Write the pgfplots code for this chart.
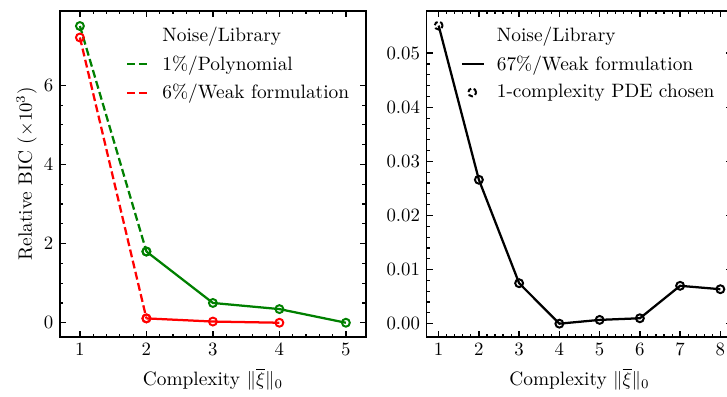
\documentclass[border=0pt]{standalone}
\usepackage{pgfplots}
\pgfplotsset{compat=1.18}
\definecolor{mgreen}{rgb}{0,0.5,0}
\definecolor{mred}{rgb}{1,0,0}
\newcommand{\fs}{\fontsize{10.3pt}{12.5pt}\selectfont}
\pgfplotsset{
  myax/.style={
    scale only axis,
    width=162.7pt, height=173.4pt,
    axis line style={line width=0.95pt},
    tick align=inside,
    tick pos=both,
    major tick length=3.3pt,
    minor tick length=1.8pt,
    every major tick/.append style={line width=0.75pt, black},
    every minor tick/.append style={line width=0.6pt, black},
    minor x tick num=4,
    tick label style={font=\fs},
    label style={font=\fs},
    xlabel={Complexity $\|\overline{\xi}\|_0$},
    legend cell align=left,
    legend style={draw=none, fill=none, anchor=north west, row sep=2pt, column sep=5pt,
      nodes={inner sep=2pt}, font=\fs},
    legend image code/.code={\draw[##1] (0pt,0pt) -- (11pt,0pt);},
  },
  markleg/.style={legend image code/.code={\draw[##1] plot coordinates {(5.5pt,0pt)};}},
  ln/.style={line width=1.2pt, mark=o, mark size=2.1pt, mark options={solid, line width=1.05pt, fill=none}},
  dsh/.style={dash pattern=on 4.2pt off 1.9pt},
}
\begin{document}
\begin{tikzpicture}
\begin{axis}[myax,
  xmin=0.7, xmax=5.3, ymin=-0.36, ymax=7.88,
  xtick={1,2,3,4,5}, ytick={0,2,4,6}, minor y tick num=3,
  ylabel={Relative BIC ($\times 10^3$)},
  ylabel shift=-3pt,
  legend style={at={(axis description cs:0.197,0.975)}},
]
\addlegendimage{empty legend}
\addlegendentry{Noise/Library}
\addplot[mgreen, ln, dsh] coordinates {(1,7.50) (2,1.80)};
\addlegendentry{1\%/Polynomial}
\addplot[mred, ln, dsh] coordinates {(1,7.21) (2,0.11)};
\addlegendentry{6\%/Weak formulation}
\addplot[mgreen, ln, forget plot] coordinates {(2,1.80) (3,0.50) (4,0.345) (5,0.0)};
\addplot[mred, ln, forget plot] coordinates {(2,0.11) (3,0.03) (4,0.0)};
\end{axis}
\begin{axis}[myax, at={(195pt,0pt)},
  xmin=0.7, xmax=8.3, ymin=-0.00246, ymax=0.0578,
  xtick={1,...,8}, ytick={0,0.01,0.02,0.03,0.04,0.05}, minor y tick num=4,
  scaled y ticks=false,
  yticklabel style={/pgf/number format/fixed, /pgf/number format/fixed zerofill, /pgf/number format/precision=2},
  legend style={at={(axis description cs:0.092,0.975)}, column sep=4pt},
  legend image code/.code={\draw[#1] (0pt,0pt) -- (12pt,0pt);},
]
\addlegendimage{empty legend}
\addlegendentry{Noise/Library}
\addplot[black, line width=1.2pt] coordinates {(1,0.0551) (2,0.0266) (3,0.00748) (4,0.0) (5,0.0007) (6,0.0010) (7,0.0070) (8,0.00637)};
\addlegendentry{67\%/Weak formulation}
\addplot[black, ln, only marks, forget plot] coordinates {(2,0.0266) (3,0.00748) (4,0.0) (5,0.0007) (6,0.0010) (7,0.0070) (8,0.00637)};
\addplot[black, only marks, mark=o, mark size=2.1pt, mark options={line width=1.05pt, dash pattern=on 2.4pt off 1.4pt, fill=none}, markleg] coordinates {(1,0.0551)};
\addlegendentry{1-complexity PDE chosen}
\end{axis}
\pgfresetboundingbox
\useasboundingbox (-31.9pt,-31.4pt) rectangle (354.8pt,179.25pt);
\end{tikzpicture}
\end{document}
